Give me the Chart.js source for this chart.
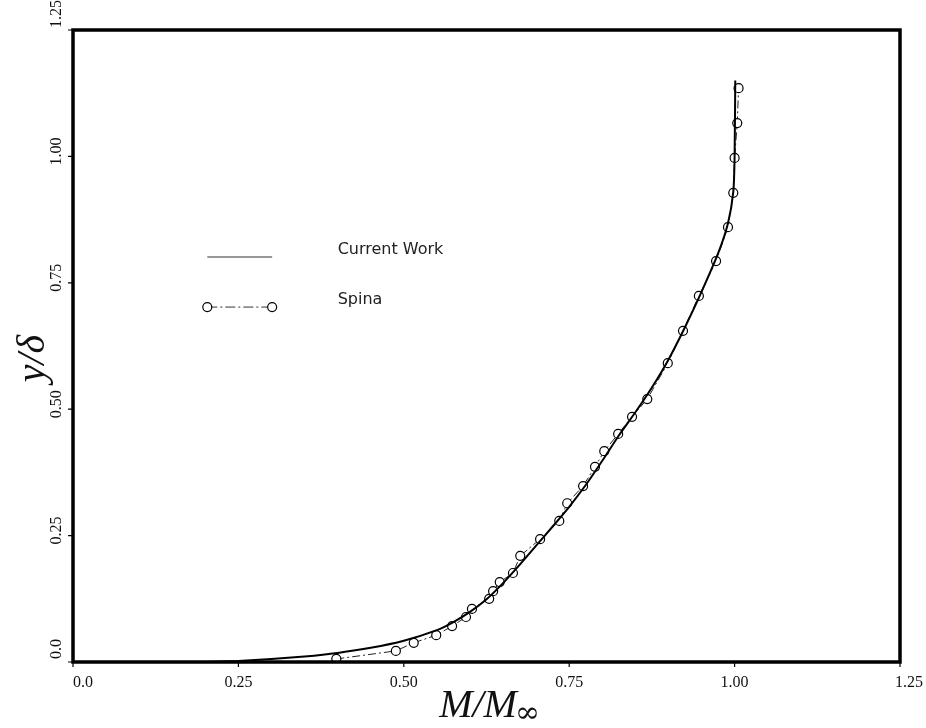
<!DOCTYPE html>
<html>
<head>
<meta charset="utf-8">
<script src="https://cdn.jsdelivr.net/npm/chart.js@4/dist/chart.umd.min.js"></script>
<style>
  html, body { margin: 0; padding: 0; background: #fff; }
  #wrap { width: 926px; height: 728px; }
</style>
</head>
<body>
<div id="wrap"><canvas id="myChart" width="926" height="728"></canvas></div>
<script>
// Spina data (circles)
var spinaM = [0.398, 0.488, 0.515, 0.549, 0.573, 0.594, 0.603, 0.629, 0.635, 0.645,
              0.665, 0.676, 0.706, 0.735, 0.747, 0.771, 0.789, 0.803, 0.824, 0.845,
              0.868, 0.899, 0.922, 0.946, 0.972, 0.990, 0.998, 1.000, 1.004, 1.006];
var spinaY = [0.006, 0.022, 0.038, 0.053, 0.071, 0.089, 0.105, 0.125, 0.140, 0.158,
              0.176, 0.210, 0.243, 0.279, 0.314, 0.348, 0.386, 0.417, 0.451, 0.485,
              0.520, 0.591, 0.655, 0.724, 0.793, 0.860, 0.928, 0.997, 1.066, 1.135];

// Current work (solid line)
var currentM = [0.20, 0.25, 0.30, 0.35, 0.40, 0.45, 0.50, 0.55, 0.575, 0.60, 0.625,
                0.65, 0.675, 0.70, 0.725, 0.75, 0.775, 0.80, 0.825, 0.85, 0.875,
                0.90, 0.925, 0.95, 0.975, 0.99, 0.998, 1.000, 1.001];
var currentY = [0.000, 0.002, 0.006, 0.011, 0.018, 0.028, 0.042, 0.063, 0.079, 0.099, 0.124,
                0.156, 0.192, 0.230, 0.268, 0.307, 0.350, 0.398, 0.448, 0.494, 0.543,
                0.598, 0.662, 0.732, 0.808, 0.868, 0.930, 1.000, 1.150];

var xTicks = [0, 0.25, 0.5, 0.75, 1.0, 1.25];
var xTickLabels = ["0.0", "0.25", "0.50", "0.75", "1.00", "1.25"];
var yTicks = [0, 0.25, 0.5, 0.75, 1.0, 1.25];
var yTickLabels = ["0.0", "0.25", "0.50", "0.75", "1.00", "1.25"];

var seriesNames = ["Current Work", "Spina"];

function toPoints(xs, ys) {
  var out = [];
  for (var i = 0; i < xs.length; i++) out.push({ x: xs[i], y: ys[i] });
  return out;
}

var tickFont = '16px "Liberation Serif", "DejaVu Serif", serif';
var titleFont = 'italic 40px "Liberation Serif", "DejaVu Serif", serif';
var infFont = '30px "DejaVu Serif", serif';
var legendFont = '16px "DejaVu Sans", "Open Sans", sans-serif';

var framePlugin = {
  id: "frame",
  afterDraw: function (chart) {
    var ctx = chart.ctx;
    var a = chart.chartArea;
    var xs = chart.scales.x, ys = chart.scales.y;
    ctx.save();

    // frame
    ctx.strokeStyle = "#000";
    ctx.lineWidth = 3.5;
    ctx.strokeRect(a.left, a.top, a.right - a.left, a.bottom - a.top);

    // tick marks
    ctx.lineWidth = 1.2;
    ctx.beginPath();
    xTicks.forEach(function (v) {
      var px = xs.getPixelForValue(v);
      ctx.moveTo(px, a.bottom);
      ctx.lineTo(px, a.bottom + 5);
    });
    yTicks.forEach(function (v) {
      var py = ys.getPixelForValue(v);
      ctx.moveTo(a.left, py);
      ctx.lineTo(a.left - 5, py);
    });
    ctx.stroke();

    // x tick labels
    ctx.fillStyle = "#111";
    ctx.font = tickFont;
    ctx.textBaseline = "middle";
    xTicks.forEach(function (v, i) {
      var px = xs.getPixelForValue(v);
      ctx.textAlign = i === 0 ? "left" : (i === xTicks.length - 1 ? "right" : "center");
      if (i === xTicks.length - 1) px += 23;
      ctx.fillText(xTickLabels[i], px, a.bottom + 21);
    });

    // y tick labels, rotated
    yTicks.forEach(function (v, i) {
      var py = ys.getPixelForValue(v);
      ctx.save();
      ctx.translate(a.left - 16, py);
      ctx.rotate(-Math.PI / 2);
      ctx.textAlign = i === 0 ? "left" : (i === yTicks.length - 1 ? "left" : "center");
      var off = i === 0 ? 3 : (i === yTicks.length - 1 ? 2 : 5);
      ctx.fillText(yTickLabels[i], off, 0);
      ctx.restore();
    });

    // axis titles
    ctx.font = titleFont;
    ctx.textBaseline = "alphabetic";
    ctx.textAlign = "left";
    var main = "M/M";
    var sub = "\u221E";
    var w1 = ctx.measureText(main).width;
    ctx.font = infFont;
    var w2 = ctx.measureText(sub).width;
    var cx = (a.left + a.right) / 2 + 4;
    var x0 = cx - (w1 + w2) / 2;
    ctx.font = titleFont;
    ctx.fillText(main, x0, a.bottom + 55);
    ctx.font = infFont;
    ctx.fillText(sub, x0 + w1 - 2, a.bottom + 60);

    ctx.save();
    ctx.font = titleFont;
    ctx.translate(a.left - 29, ys.getPixelForValue(0.6));
    ctx.rotate(-Math.PI / 2);
    ctx.textAlign = "center";
    ctx.fillText("y/\u03B4", 0, 0);
    ctx.restore();

    // legend inside plot
    var lx0 = xs.getPixelForValue(0.203), lx1 = xs.getPixelForValue(0.301);
    var tx = xs.getPixelForValue(0.40);
    var l1 = ys.getPixelForValue(0.801), l2 = ys.getPixelForValue(0.702);
    ctx.strokeStyle = "#333";
    ctx.lineWidth = 1;
    ctx.beginPath();
    ctx.moveTo(lx0, l1);
    ctx.lineTo(lx1, l1);
    ctx.stroke();

    ctx.setLineDash([10, 3, 2, 3]);
    ctx.beginPath();
    ctx.moveTo(lx0, l2);
    ctx.lineTo(lx1, l2);
    ctx.stroke();
    ctx.setLineDash([]);
    [lx0, lx1].forEach(function (px) {
      ctx.beginPath();
      ctx.arc(px, l2, 4.5, 0, Math.PI * 2);
      ctx.fillStyle = "#fff";
      ctx.fill();
      ctx.lineWidth = 1.2;
      ctx.strokeStyle = "#000";
      ctx.stroke();
    });

    ctx.fillStyle = "#222";
    ctx.font = legendFont;
    ctx.textAlign = "left";
    ctx.textBaseline = "middle";
    ctx.fillText(seriesNames[0], tx, l1 - 7);
    ctx.fillText(seriesNames[1], tx, l2 - 7);

    ctx.restore();
  }
};

var ctx = document.getElementById("myChart");
var chart = new Chart(ctx, {
  type: "scatter",
  data: {
    datasets: [
      {
        label: seriesNames[0],
        data: toPoints(currentM, currentY),
        showLine: true,
        borderColor: "#000",
        borderWidth: 2,
        pointRadius: 0,
        tension: 0.2,
        fill: false
      },
      {
        label: seriesNames[1],
        data: toPoints(spinaM, spinaY),
        showLine: true,
        borderColor: "#222",
        borderWidth: 1,
        borderDash: [8, 3, 2, 3],
        pointRadius: 4.5,
        pointBorderWidth: 1.2,
        pointBackgroundColor: "#fff",
        pointBorderColor: "#000",
        tension: 0,
        fill: false
      }
    ]
  },
  options: {
    responsive: false,
    animation: false,
    layout: { padding: { left: 73, right: 26, top: 30, bottom: 66 } },
    plugins: {
      legend: { display: false },
      tooltip: { enabled: false }
    },
    scales: {
      x: { type: "linear", min: 0, max: 1.25, display: false },
      y: { type: "linear", min: 0, max: 1.25, display: false }
    }
  },
  plugins: [framePlugin]
});
</script>
</body>
</html>
